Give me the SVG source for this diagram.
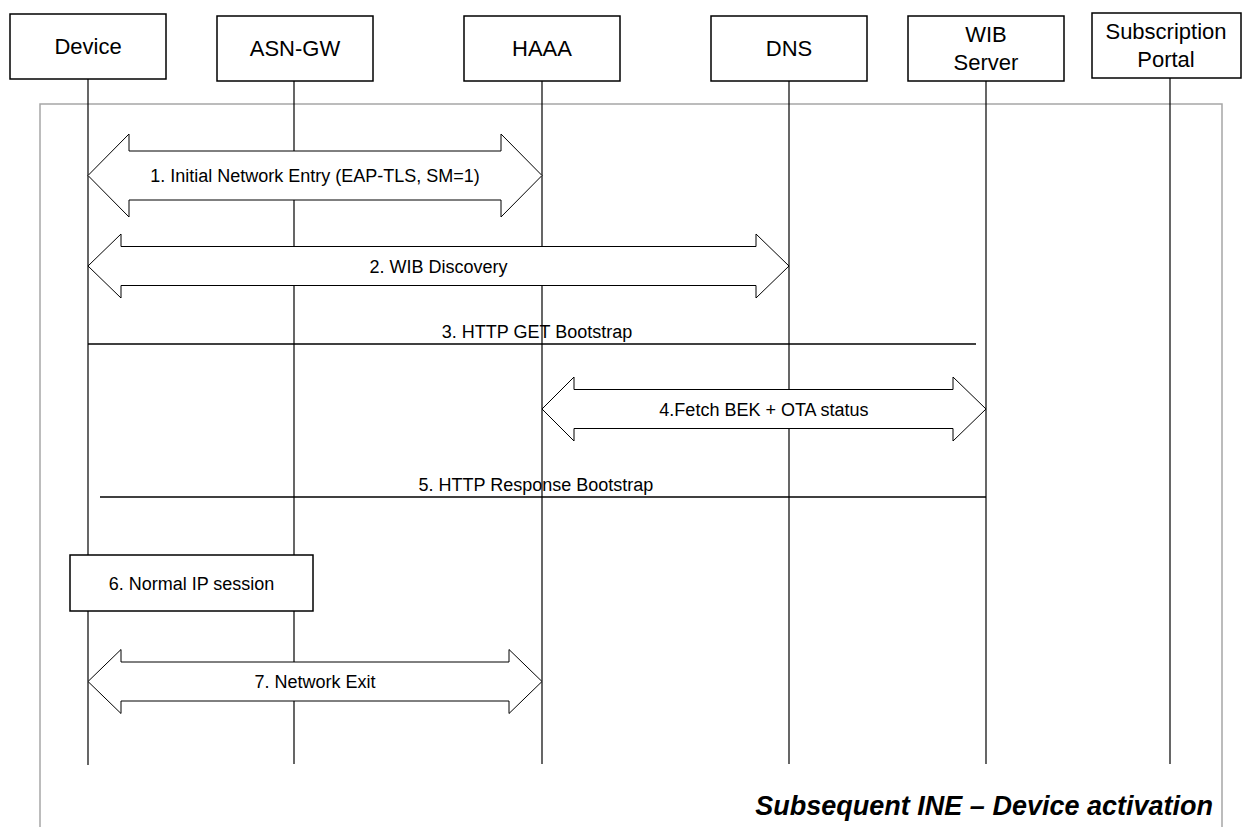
<svg xmlns="http://www.w3.org/2000/svg" width="1243" height="827" viewBox="0 0 1243 827">
  <style>
    .box { fill: #ffffff; stroke: #000000; stroke-width: 1.5; }
    .life { stroke: #000000; stroke-width: 1.2; fill: none; }
    .frame { fill: none; stroke: #a6a6a6; stroke-width: 1.5; }
    .fat { fill: #ffffff; stroke: #000000; stroke-width: 1; stroke-linejoin: miter; }
    .msg { stroke: #000000; stroke-width: 1.5; fill: none; }
    .lbl { font-family: "Liberation Sans", Arial, sans-serif; font-size: 22px; fill: #000000; text-anchor: middle; }
    .step { font-family: "Liberation Sans", Arial, sans-serif; font-size: 18px; fill: #000000; text-anchor: middle; }
    .title { font-family: "Liberation Sans", Arial, sans-serif; font-size: 27px; font-weight: bold; font-style: italic; fill: #000000; text-anchor: end; }
  </style>

  <rect id="frame" class="frame" x="40" y="104" width="1182" height="740"/>

  <!-- lifelines -->
  <g id="lifelines">
    <line class="life" x1="88" y1="79" x2="88" y2="765"/>
    <line class="life" x1="294" y1="81" x2="294" y2="764"/>
    <line class="life" x1="542" y1="81" x2="542" y2="764"/>
    <line class="life" x1="789" y1="81" x2="789" y2="764"/>
    <line class="life" x1="986" y1="81" x2="986" y2="764"/>
    <line class="life" x1="1170" y1="78" x2="1170" y2="764" stroke-width="2"/>
  </g>

  <!-- participants -->
  <g id="device">
    <rect class="box" x="10" y="14" width="156" height="65"/>
    <text class="lbl" x="88" y="54">Device</text>
  </g>
  <g id="asn-gw">
    <rect class="box" x="217" y="16" width="156" height="65"/>
    <text class="lbl" x="295" y="56">ASN-GW</text>
  </g>
  <g id="haaa">
    <rect class="box" x="464" y="16" width="156" height="65"/>
    <text class="lbl" x="542" y="56">HAAA</text>
  </g>
  <g id="dns">
    <rect class="box" x="711" y="16" width="156" height="65"/>
    <text class="lbl" x="789" y="56">DNS</text>
  </g>
  <g id="wib-server">
    <rect class="box" x="908" y="16" width="156" height="65"/>
    <text class="lbl" x="986" y="42">WIB</text>
    <text class="lbl" x="986" y="70">Server</text>
  </g>
  <g id="subscription-portal">
    <rect class="box" x="1092" y="13" width="149" height="65"/>
    <text class="lbl" x="1166" y="39">Subscription</text>
    <text class="lbl" x="1166" y="67">Portal</text>
  </g>

  <!-- messages -->
  <g id="connectors">
    <!-- 1: Device <-> HAAA -->
    <path class="fat" d="M88,175.5 L129,134 L129,151 L501,151 L501,134 L542,175.5 L501,217 L501,200 L129,200 L129,217 Z"/>
    <!-- 2: Device <-> DNS -->
    <path class="fat" d="M88,266 L121,234 L121,246.5 L756,246.5 L756,234 L789,266 L756,298 L756,285.5 L121,285.5 L121,298 Z"/>
    <!-- 3: Device -> WIB -->
    <line class="msg" x1="88" y1="344" x2="976" y2="344"/>
    <!-- 4: HAAA <-> WIB -->
    <path class="fat" d="M542,409 L574,377 L574,389.5 L953,389.5 L953,377 L986,409 L953,441 L953,428.5 L574,428.5 L574,441 Z"/>
    <!-- 5: WIB -> Device -->
    <line class="msg" x1="100" y1="497" x2="986" y2="497"/>
    <!-- 7: Device <-> HAAA -->
    <path class="fat" d="M88,681.5 L121,649.5 L121,662 L509,662 L509,649.5 L542,681.5 L509,713.5 L509,701 L121,701 L121,713.5 Z"/>
  </g>

  <g id="labels">
    <text class="step" x="315" y="181.5">1. Initial Network Entry (EAP-TLS, SM=1)</text>
    <text class="step" x="438.5" y="272.5">2. WIB Discovery</text>
    <text class="step" x="537" y="338">3. HTTP GET Bootstrap</text>
    <text class="step" x="764" y="415.5">4.Fetch BEK + OTA status</text>
    <text class="step" x="536" y="491">5. HTTP Response Bootstrap</text>
    <text class="step" x="315" y="688">7. Network Exit</text>
  </g>

  <g id="normal-ip-session">
    <rect class="box" x="70" y="555" width="243" height="56"/>
    <text class="step" x="191.5" y="589.5">6. Normal IP session</text>
  </g>

  <text id="title" class="title" x="1213" y="815">Subsequent INE – Device activation</text>
</svg>
